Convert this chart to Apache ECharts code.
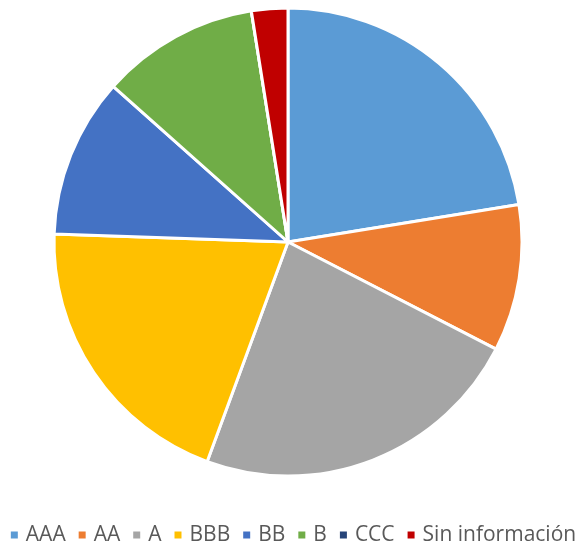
<!DOCTYPE html>
<html><head><meta charset="utf-8">
<script src="https://cdn.jsdelivr.net/npm/echarts@6/dist/echarts.min.js"></script>
<style>html,body{margin:0;padding:0;background:#fff}#c{width:585px;height:544px}</style>
</head><body><div id="c"></div>
<script>
const categories = ['AAA','AA','A','BBB','BB','B','CCC','Sin información'];
const values = [22.4, 10.1, 23.0, 19.9, 11.0, 10.9, 0, 2.5];
const colors = ['#5B9BD5','#ED7D31','#A5A5A5','#FFC000','#4472C4','#70AD47','#264478','#C00000'];
const chart = echarts.init(document.getElementById('c'));
chart.setOption({
  animation:false,
  color: colors,
  legend:{
    left:'center', top: 524, padding:0,
    itemWidth: 9, itemHeight: 9, itemGap: 11, icon:'rect',
    textStyle:{fontFamily:'Open Sans', fontSize:21, lineHeight:22, color:'#595959', padding:[0,0,0,2]},
    data: categories
  },
  series:[{
    type:'pie', center:[288,242], radius:[0,234],
    startAngle:90, clockwise:true,
    label:{show:false}, labelLine:{show:false},
    itemStyle:{borderColor:'#fff', borderWidth:3},
    emphasis:{disabled:true},
    data: categories.map((c,i)=>({name:c, value: values[i]}))
  }]
});
</script></body></html>
